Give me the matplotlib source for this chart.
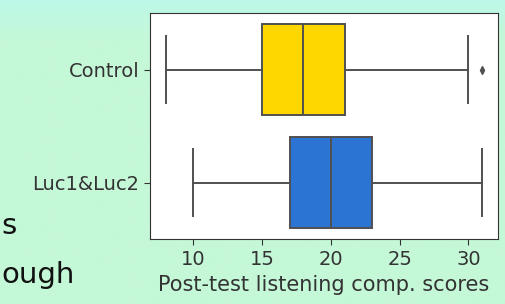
import matplotlib
matplotlib.use('Agg')
import matplotlib.pyplot as plt
import numpy as np
from matplotlib.colors import LinearSegmentedColormap

# Данные (оценка по картинке)
groups = ['Control', 'Luc1&Luc2']
whislo = [8, 10]
q1 = [15, 17]
med = [18, 20]
q3 = [21, 23]
whishi = [30, 31]
fliers = [[31], []]
colors = ['#FFD700', '#2B74D3']

plt.rcParams['font.family'] = ['DejaVu Sans']

fig = plt.figure(figsize=(5.06, 3.04), dpi=100)

# фон слайда - вертикальный градиент
bg = fig.add_axes([0, 0, 1, 1], zorder=-10)
cmap = LinearSegmentedColormap.from_list('bg', [(0.0, '#BDF7E8'), (0.13, '#C4F8D7'), (1.0, '#C4F8D7')])
bg.imshow(np.linspace(0, 1, 256).reshape(-1, 1), aspect='auto', cmap=cmap, extent=[0, 1, 1, 0])
bg.set_xlim(0, 1)
bg.set_ylim(1, 0)
bg.axis('off')

# обрывки текста слайда слева
fig.text(1 / 506, 1 - 234 / 304, 's', ha='left', va='baseline', fontsize=21, color='#111111')
fig.text(1 / 506, 1 - 283 / 304, 'ough', ha='left', va='baseline', fontsize=21, color='#111111')

ax = fig.add_axes([150 / 506, 1 - 239 / 304, 348 / 506, 226 / 304])
ax.set_facecolor('white')

stats = []
for i in range(len(groups)):
    stats.append({'label': groups[i], 'whislo': whislo[i], 'q1': q1[i], 'med': med[i],
                  'q3': q3[i], 'whishi': whishi[i], 'fliers': fliers[i]})

pos = np.arange(len(groups))
gray = '#505050'
bp = ax.bxp(stats, positions=pos, vert=False, widths=0.8, patch_artist=True,
            boxprops=dict(edgecolor=gray, linewidth=1.4),
            medianprops=dict(color=gray, linewidth=1.4),
            whiskerprops=dict(color=gray, linewidth=1.4),
            capprops=dict(color=gray, linewidth=1.4),
            capwidths=0.6,
            flierprops=dict(marker='d', markerfacecolor=gray, markeredgecolor=gray, markersize=4))
for patch, c in zip(bp['boxes'], colors):
    patch.set_facecolor(c)

ax.set_ylim(1.5, -0.5)
ax.set_xlim(6.85, 32.15)
ax.set_xticks([10, 15, 20, 25, 30])
ax.set_yticks(pos)
ax.set_yticklabels(groups)
ax.tick_params(labelsize=14, colors='#333333', length=4)
ax.tick_params(axis='x', pad=4)
ax.set_xlabel('Post-test listening comp. scores', fontsize=15, color='#333333', labelpad=4)
for s in ax.spines.values():
    s.set_color('#333333')

fig.savefig('out.png', dpi=100)
